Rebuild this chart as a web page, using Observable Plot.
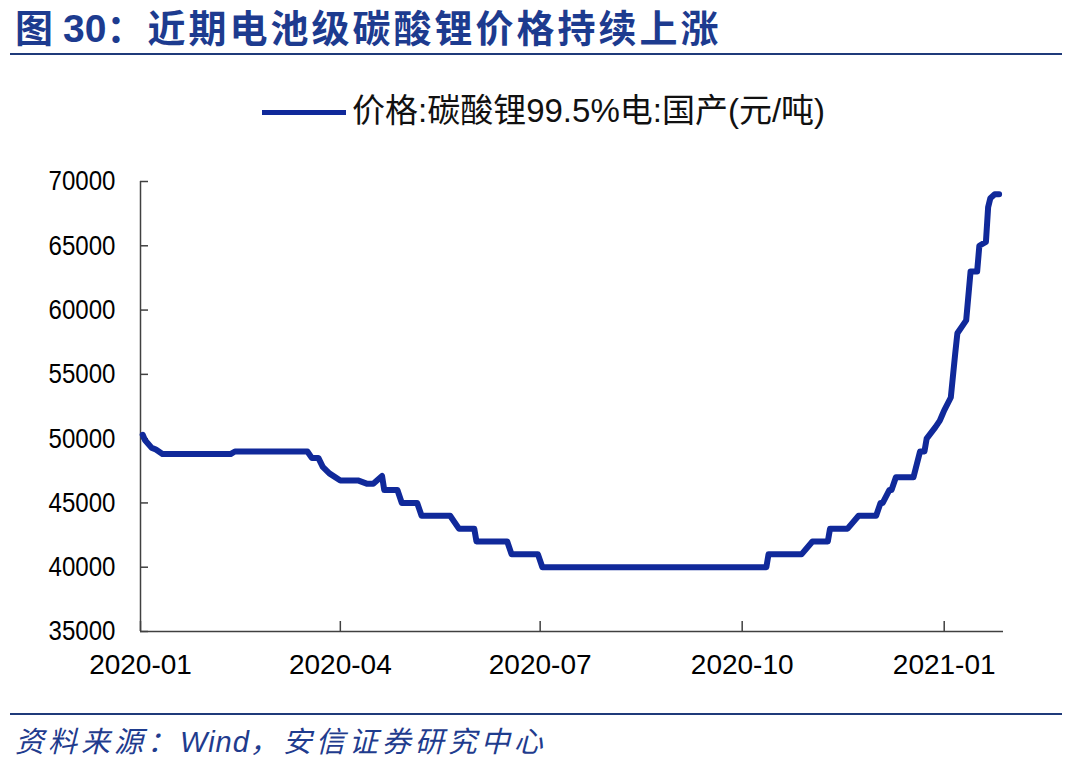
<!DOCTYPE html>
<html><head><meta charset="utf-8">
<script src="https://cdn.jsdelivr.net/npm/d3@7"></script>
<script src="https://cdn.jsdelivr.net/npm/@observablehq/plot@0.6"></script>
<style>
body{margin:0;background:#fff;width:1071px;height:766px;overflow:hidden;font-family:"Liberation Sans",Arial,sans-serif}
#header{position:relative;height:60px}
#title{position:absolute;left:15px;top:3px;font-family:"Noto Sans CJK SC","Liberation Sans",sans-serif;font-weight:700;font-size:38px;color:#1D3B8F;white-space:nowrap;line-height:46px}
#title .a{letter-spacing:0}
#title b{font-family:"Liberation Sans",Arial,sans-serif;font-size:39px;margin-left:10px;letter-spacing:0}
#title .c{letter-spacing:3px}
#header .rule{position:absolute;left:10px;right:9px;top:53px;height:2px;background:#1F3A7A}
#legend{position:relative;height:100px}
#legend .sw{position:absolute;left:262px;top:50px;width:84px;height:5px;background:#10299A}
#legend .tx{position:absolute;left:352px;top:31px;font-size:33px;color:#111;white-space:nowrap;font-family:"Liberation Sans","Noto Sans CJK SC",sans-serif;line-height:40px}
#chart{height:540px}
#footer{position:relative;height:66px}
#footer .rule{position:absolute;left:10px;right:9px;top:13px;height:2px;background:#1F3A7A}
#footer .tx{position:absolute;left:15px;top:20px;font-size:29px;color:#1F3C8E;font-style:italic;letter-spacing:4px;white-space:nowrap;font-family:"Noto Sans CJK SC","Liberation Sans",sans-serif;line-height:38px}
#footer .tx span{letter-spacing:1px}
</style></head><body>
<div id="header"><div id="title"><span class="a">图</span><b>30</b><span class="c">：近期电池级碳酸锂价格持续上涨</span></div><div class="rule"></div></div>
<div id="legend"><div class="sw"></div><div class="tx">价格:碳酸锂99.5%电:国产(元/吨)</div></div>
<div id="chart"></div>
<div id="footer"><div class="rule"></div><div class="tx">资料来源：<span style="font-family:'Liberation Sans',Arial,sans-serif">Wind</span>，安信证券研究中心</div></div>
<script>
const dates = ["2020-01-02","2020-01-03","2020-01-06","2020-01-08","2020-01-11","2020-02-11","2020-02-13","2020-03-17","2020-03-19","2020-03-22","2020-03-24","2020-03-27","2020-04-01","2020-04-09","2020-04-13","2020-04-16","2020-04-20","2020-04-21","2020-04-27","2020-04-29","2020-05-06","2020-05-08","2020-05-21","2020-05-25","2020-06-01","2020-06-02","2020-06-16","2020-06-18","2020-06-30","2020-07-02","2020-10-12","2020-10-13","2020-10-28","2020-11-02","2020-11-09","2020-11-10","2020-11-18","2020-11-23","2020-12-01","2020-12-03","2020-12-04","2020-12-07","2020-12-08","2020-12-10","2020-12-18","2020-12-21","2020-12-23","2020-12-24","2020-12-28","2020-12-30","2020-12-31","2021-01-01","2021-01-04","2021-01-06","2021-01-07","2021-01-11","2021-01-13","2021-01-16","2021-01-17","2021-01-20","2021-01-21","2021-01-22","2021-01-24","2021-01-26"];
const prices = [50300,49900,49300,49150,48800,48800,49000,49000,48500,48500,47800,47300,46750,46750,46500,46500,47100,46000,46000,45000,45000,44000,44000,43000,43000,42000,42000,41000,41000,40000,40000,41000,41000,42000,42000,43000,43000,44000,44000,45000,45000,46000,46000,47000,47000,49000,49000,50000,50900,51400,51800,52200,53200,56600,58200,59200,63000,63000,65000,65300,68000,68700,69000,69000];
const yTicks = [35000,40000,45000,50000,55000,60000,65000,70000];
const xTicks = ["2020-01-01","2020-04-01","2020-07-01","2020-10-01","2021-01-01"];
const xDomain = ["2020-01-01","2021-01-28"];
const seriesName = "价格:碳酸锂99.5%电:国产(元/吨)";

const parse = d3.utcParse("%Y-%m-%d");
const data = dates.map((d, i) => ({date: parse(d), price: prices[i]}));
const xt = xTicks.map(parse);
const W = 1071, H = 540, mL = 140, mR = 68, mT = 21, mB = 69;
const plot = Plot.plot({
  width: W, height: H,
  marginLeft: mL, marginRight: mR, marginTop: mT, marginBottom: mB,
  style: {fontFamily: "'Liberation Sans', Arial, sans-serif", color: "#000", background: "#fff"},
  x: {type: "utc", domain: xDomain.map(parse)},
  y: {domain: [35000, 70000]},
  marks: [
    Plot.axisY(yTicks, {tickSize: 0, tickPadding: 25, fontSize: 28, tickFormat: d => String(d), label: null}),
    Plot.axisX(xt, {tickSize: 0, tickPadding: 23, fontSize: 28, tickFormat: d3.utcFormat("%Y-%m"), label: null}),
    Plot.tickY(yTicks, {y: d => d, stroke: "#404040", strokeWidth: 1.5, insetRight: W - mL - mR - 8}),
    Plot.tickX(xt, {x: d => d, stroke: "#404040", strokeWidth: 1.5, insetTop: H - mT - mB - 10}),
    Plot.ruleX([parse(xDomain[0])], {stroke: "#404040", strokeWidth: 1.5}),
    Plot.ruleY([35000], {stroke: "#404040", strokeWidth: 1.5}),
    Plot.line(data, {x: "date", y: "price", stroke: "#10299A", strokeWidth: 6, strokeLinejoin: "round", strokeLinecap: "round", title: () => seriesName})
  ]
});
// slightly condensed y tick labels, as in the original
d3.select(plot).selectAll("g[aria-label='y-axis tick label'] text").each(function() {
  const t = this.getAttribute("transform");
  if (t) this.setAttribute("transform", t + " scale(0.86,1)");
});
document.getElementById("chart").appendChild(plot);
</script>
</body></html>
